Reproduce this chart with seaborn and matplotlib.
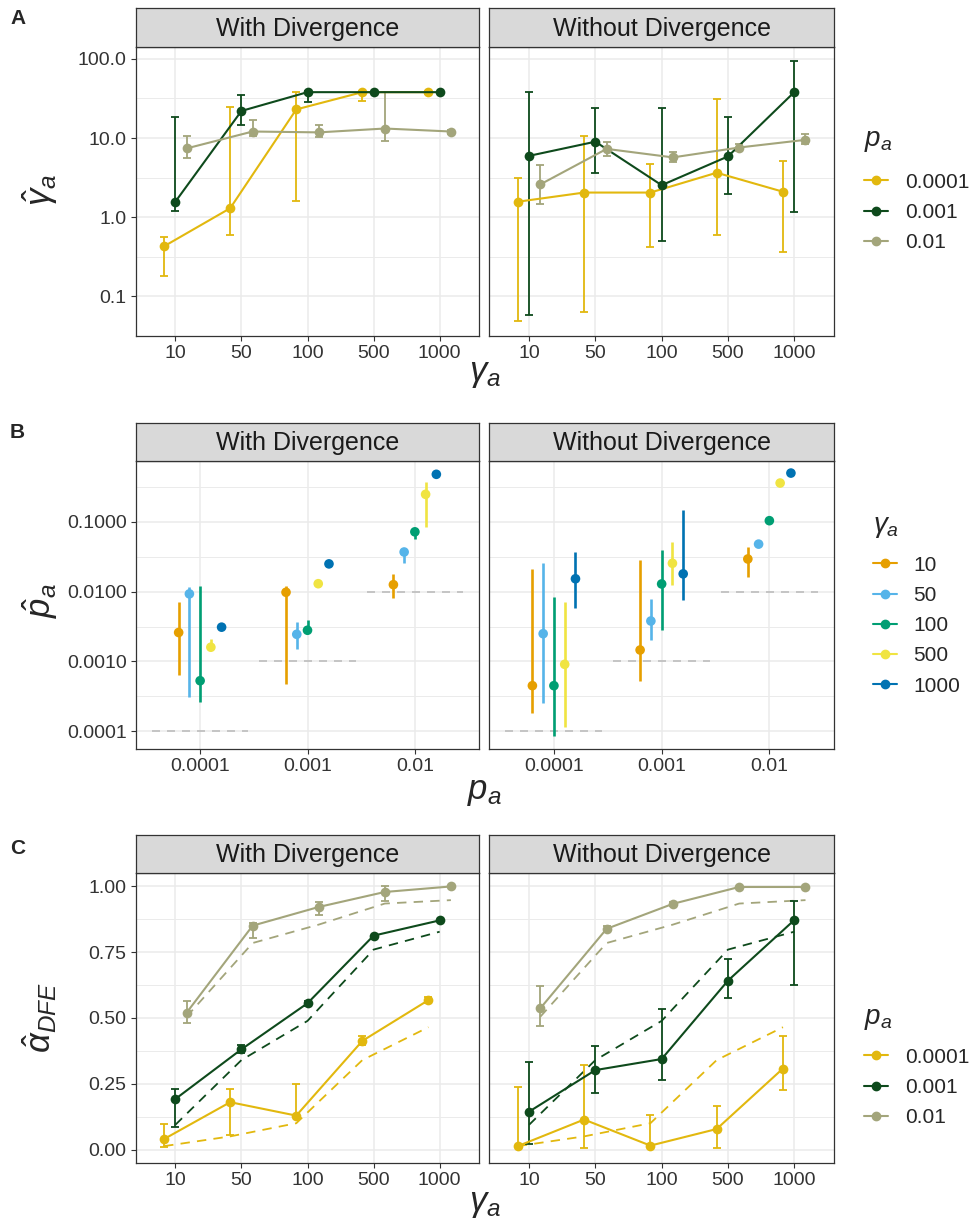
import matplotlib
matplotlib.use("Agg")
import matplotlib.pyplot as plt
from matplotlib.lines import Line2D
from matplotlib.ticker import NullFormatter
import pandas as pd
import seaborn as sns

# ---- data -------------------------------------------------------------
facets = ["With Divergence", "Without Divergence"]
gamma_labels = ["10", "50", "100", "500", "1000"]
pa_labels = ["0.0001", "0.001", "0.01"]

pa_colors = ["#E2B80E", "#0E4A1C", "#A3A57B"]
gamma_colors = ["#E69F00", "#56B4E9", "#009E73", "#F0E442", "#0072B2"]

# panel A: estimated gamma_a, rows = p_a, cols = gamma_a
a_with_est = [[0.43, 1.30, 23, 38, 38], [1.57, 22, 38, 38, 38], [7.4, 12.1, 11.8, 13.2, 12.1]]
a_with_lo = [[0.18, 0.6, 1.6, 29, 36], [1.2, 14.7, 28.7, 38, 38], [5.6, 10.5, 10.3, 9.1, 11.4]]
a_with_hi = [[0.57, 25, 38, 39, 39], [18.7, 34.5, 39, 38, 38], [10.7, 16.9, 14.7, 38, 12.8]]
a_wo_est = [[1.57, 2.05, 2.05, 3.65, 2.1], [5.96, 9.0, 2.54, 5.86, 38], [2.6, 7.3, 5.7, 7.6, 9.5]]
a_wo_lo = [[0.049, 0.063, 0.42, 0.6, 0.36], [0.059, 3.6, 0.5, 1.96, 1.16], [1.47, 6.0, 5.0, 6.8, 8.4]]
a_wo_hi = [[3.16, 10.5, 4.7, 31.6, 5.2], [38, 23.7, 24, 18.7, 95], [4.55, 8.9, 6.6, 8.4, 11.2]]

# panel B: estimated p_a, rows = gamma_a, cols = p_a
b_with_est = [[0.0026, 0.0098, 0.0126], [0.0093, 0.00245, 0.037], [0.00053, 0.0028, 0.072],
              [0.0016, 0.013, 0.248], [0.0031, 0.025, 0.48]]
b_with_lo = [[0.00064, 0.00047, 0.0081], [0.00031, 0.0015, 0.0255], [0.00026, 0.00253, 0.056],
             [0.00146, 0.013, 0.085], [0.0031, 0.025, 0.48]]
b_with_hi = [[0.0072, 0.0122, 0.0179], [0.0118, 0.0037, 0.0427], [0.0121, 0.0039, 0.083],
             [0.0021, 0.013, 0.37], [0.0031, 0.025, 0.48]]
b_wo_est = [[0.00045, 0.00146, 0.0294], [0.0025, 0.0038, 0.048], [0.00045, 0.0129, 0.104],
            [0.00091, 0.0255, 0.36], [0.0153, 0.018, 0.50]]
b_wo_lo = [[0.00018, 0.00052, 0.016], [0.00025, 0.002, 0.043], [0.000085, 0.0028, 0.104],
           [0.000117, 0.0125, 0.36], [0.0059, 0.0077, 0.50]]
b_wo_hi = [[0.021, 0.028, 0.044], [0.026, 0.0078, 0.054], [0.0084, 0.0395, 0.104],
           [0.0071, 0.052, 0.36], [0.037, 0.15, 0.50]]
b_true = [0.0001, 0.001, 0.01]

# panel C: estimated alpha_DFE, rows = p_a, cols = gamma_a
c_with_est = [[0.04, 0.18, 0.129, 0.413, 0.568], [0.192, 0.381, 0.556, 0.813, 0.871], [0.52, 0.851, 0.922, 0.979, 1.0]]
c_with_lo = [[0.011, 0.057, 0.129, 0.398, 0.558], [0.087, 0.366, 0.546, 0.813, 0.871], [0.482, 0.804, 0.89, 0.943, 1.0]]
c_with_hi = [[0.097, 0.23, 0.251, 0.432, 0.578], [0.23, 0.396, 0.566, 0.813, 0.871], [0.563, 0.861, 0.942, 1.0, 1.0]]
c_wo_est = [[0.013, 0.114, 0.015, 0.078, 0.308], [0.144, 0.302, 0.344, 0.642, 0.872], [0.537, 0.839, 0.934, 0.998, 0.998]]
c_wo_lo = [[0.013, 0.006, 0.015, 0.005, 0.227], [0.022, 0.214, 0.265, 0.577, 0.625], [0.47, 0.829, 0.926, 0.998, 0.998]]
c_wo_hi = [[0.236, 0.321, 0.133, 0.167, 0.43], [0.333, 0.394, 0.533, 0.725, 0.946], [0.621, 0.849, 0.942, 0.998, 0.998]]
c_expected = [[0.013, 0.05, 0.10, 0.34, 0.465], [0.094, 0.34, 0.489, 0.76, 0.828], [0.505, 0.785, 0.855, 0.935, 0.948]]

# ---- style ------------------------------------------------------------
sns.set_theme(style="white")
plt.rcParams["font.family"] = ["Liberation Sans", "DejaVu Sans"]
plt.rcParams["mathtext.fontset"] = "custom"
plt.rcParams["mathtext.rm"] = "Liberation Sans"
plt.rcParams["mathtext.it"] = "Liberation Sans:italic"
plt.rcParams["mathtext.bf"] = "Liberation Sans:bold"

W, H = 973, 1225
fig = plt.figure(figsize=(W / 100, H / 100), dpi=100)


def box(x0, y0, x1, y1):
    return [x0 / W, 1 - y1 / H, (x1 - x0) / W, (y1 - y0) / H]


cols = [(135.7, 479.3), (489.3, 834.0)]
strip_h = 38.4
dodge3 = [-0.17, 0.0, 0.17]
dodge5 = [-0.2, -0.1, 0.0, 0.1, 0.2]


def make_panel(x0, x1, y0, y1, title):
    ax = fig.add_axes(box(x0, y0, x1, y1))
    sax = fig.add_axes(box(x0, y0 - strip_h, x1, y0))
    sax.set_facecolor("#D9D9D9")
    sax.set_xticks([])
    sax.set_yticks([])
    for s in sax.spines.values():
        s.set_color("#333333")
        s.set_linewidth(0.9)
    sax.text(0.5, 0.47, title, ha="center", va="center", fontsize=18, color="#1A1A1A")
    ax.set_facecolor("white")
    return ax


def finish(ax, show_y):
    for s in ax.spines.values():
        s.set_color("#333333")
        s.set_linewidth(0.9)
        s.set_zorder(10)
    ax.grid(True, which="major", color="#EBEBEB", lw=1.1)
    ax.grid(True, which="minor", axis="y", color="#EBEBEB", lw=0.7)
    ax.set_axisbelow(True)
    ax.tick_params(which="major", length=3.5, width=0.8, color="#333333",
                   labelsize=14, labelcolor="#333333", pad=3, bottom=True, left=True)
    ax.tick_params(which="minor", length=0)
    ax.yaxis.set_minor_formatter(NullFormatter())
    ax.set_xlabel("")
    ax.set_ylabel("")
    if not show_y:
        ax.tick_params(axis="y", which="both", left=False, labelleft=False)


def long_table(est, lo, hi, dodge, n_cat):
    rows = []
    for i in range(len(est)):
        for k in range(n_cat):
            rows.append({"grp": i, "x": k + 1 + dodge[i], "est": est[i][k], "lo": lo[i][k], "hi": hi[i][k]})
    return pd.DataFrame(rows)


def line_panel(ax, est, lo, hi):
    df = long_table(est, lo, hi, dodge3, 5)
    for i, c in enumerate(pa_colors):
        d = df[df.grp == i]
        ax.errorbar(d.x, d.est, yerr=[d.est - d.lo, d.hi - d.est], fmt="none", ecolor=c,
                    elinewidth=1.3, capsize=3.2, capthick=1.3, zorder=2)
    sns.lineplot(data=df, x="x", y="est", hue="grp", palette=pa_colors, marker="o",
                 markersize=7, markeredgewidth=0, lw=1.5, estimator=None, sort=False,
                 legend=False, ax=ax, zorder=3)


# ---- panel A ----------------------------------------------------------
yA = (46.7, 336.0)
for j, (est, lo, hi) in enumerate([(a_with_est, a_with_lo, a_with_hi), (a_wo_est, a_wo_lo, a_wo_hi)]):
    ax = make_panel(cols[j][0], cols[j][1], yA[0], yA[1], facets[j])
    line_panel(ax, est, lo, hi)
    ax.set_yscale("log")
    ax.set_ylim(10 ** -1.4625, 10 ** 2.154)
    ax.set_xlim(0.4, 5.6)
    ax.set_xticks(range(1, 6))
    ax.set_xticklabels(gamma_labels)
    ax.set_yticks([0.1, 1, 10, 100])
    ax.set_yticklabels(["0.1", "1.0", "10.0", "100.0"])
    ax.set_yticks([10 ** (k + 0.5) for k in range(-2, 2)], minor=True)
    finish(ax, j == 0)

# ---- panel B ----------------------------------------------------------
yB = (461.0, 749.0)
for j, (est, lo, hi) in enumerate([(b_with_est, b_with_lo, b_with_hi), (b_wo_est, b_wo_lo, b_wo_hi)]):
    ax = make_panel(cols[j][0], cols[j][1], yB[0], yB[1], facets[j])
    df = long_table(est, lo, hi, dodge5, 3)
    ax.hlines(b_true, [k + 0.55 for k in range(3)], [k + 1.45 for k in range(3)],
              colors="#BDBDBD", linestyles=(0, (4.8, 4.2)), lw=1.2, zorder=1)
    for i, c in enumerate(gamma_colors):
        d = df[df.grp == i]
        ax.vlines(d.x, d.lo, d.hi, colors=c, lw=1.9, zorder=2)
    sns.scatterplot(data=df, x="x", y="est", hue="grp", palette=gamma_colors, s=48,
                    linewidth=0, legend=False, ax=ax, zorder=3)
    ax.set_yscale("log")
    ax.set_ylim(10 ** -4.254, 10 ** -0.128)
    ax.set_xlim(0.4, 3.6)
    ax.set_xticks(range(1, 4))
    ax.set_xticklabels(pa_labels)
    ax.set_yticks([1e-4, 1e-3, 1e-2, 1e-1])
    ax.set_yticklabels(["0.0001", "0.0010", "0.0100", "0.1000"])
    ax.set_yticks([10 ** (k + 0.5) for k in range(-4, 0)], minor=True)
    finish(ax, j == 0)

# ---- panel C ----------------------------------------------------------
yC = (873.3, 1162.7)
for j, (est, lo, hi) in enumerate([(c_with_est, c_with_lo, c_with_hi), (c_wo_est, c_wo_lo, c_wo_hi)]):
    ax = make_panel(cols[j][0], cols[j][1], yC[0], yC[1], facets[j])
    for i, c in enumerate(pa_colors):
        ex = pd.DataFrame({"x": [k + 1 + dodge3[i] for k in range(5)], "v": c_expected[i]})
        sns.lineplot(data=ex, x="x", y="v", color=c, lw=1.3, linestyle=(0, (5.2, 4.0)),
                     estimator=None, sort=False, ax=ax, zorder=1.5)
    line_panel(ax, est, lo, hi)
    ax.set_ylim(-0.05, 1.05)
    ax.set_xlim(0.4, 5.6)
    ax.set_xticks(range(1, 6))
    ax.set_xticklabels(gamma_labels)
    ax.set_yticks([0, 0.25, 0.5, 0.75, 1.0])
    ax.set_yticklabels(["0.00", "0.25", "0.50", "0.75", "1.00"])
    ax.set_yticks([0.125, 0.375, 0.625, 0.875], minor=True)
    finish(ax, j == 0)

# ---- labels and legends -------------------------------------------------
for letter, y in [("A", 18), ("B", 432), ("C", 848)]:
    fig.text(10 / W, 1 - y / H, letter, fontsize=15, fontweight="bold", va="center", ha="left")

xc = (cols[0][0] + cols[1][1]) / 2
fig.text(xc / W, 1 - 374 / H, r"$\gamma_a$", ha="center", va="center", fontsize=25)
fig.text(xc / W, 1 - 792 / H, r"$p_a$", ha="center", va="center", fontsize=25)
fig.text(xc / W, 1 - 1203 / H, r"$\gamma_a$", ha="center", va="center", fontsize=25)
fig.text(40 / W, 1 - 190 / H, r"$\hat{\gamma}_a$", ha="center", va="center", fontsize=25, rotation=90)
fig.text(40 / W, 1 - 600 / H, r"$\hat{p}_a$", ha="center", va="center", fontsize=25, rotation=90)
fig.text(40 / W, 1 - 1018 / H, r"$\hat{\alpha}_{DFE}$", ha="center", va="center", fontsize=25, rotation=90)


def add_legend(colors, labels, title, x, y_title, y_first):
    fig.text(x / W, 1 - y_title / H, title, ha="left", va="center", fontsize=20)
    handles = [Line2D([0], [0], color=c, lw=1.5, marker="o", markersize=6) for c in colors]
    fig.legend(handles, labels, loc="upper left", bbox_to_anchor=(x / W, 1 - (y_first - 9.4) / H),
               frameon=False, fontsize=15, handlelength=1.15,
               handletextpad=0.8, labelspacing=0.54, borderaxespad=0, borderpad=0)


add_legend(pa_colors, pa_labels, r"$p_a$", 864, 141, 182)
add_legend(gamma_colors, gamma_labels, r"$\gamma_a$", 873, 527, 565)
add_legend(pa_colors, pa_labels, r"$p_a$", 864, 1019, 1057)

fig.savefig("out.png", dpi=100)
